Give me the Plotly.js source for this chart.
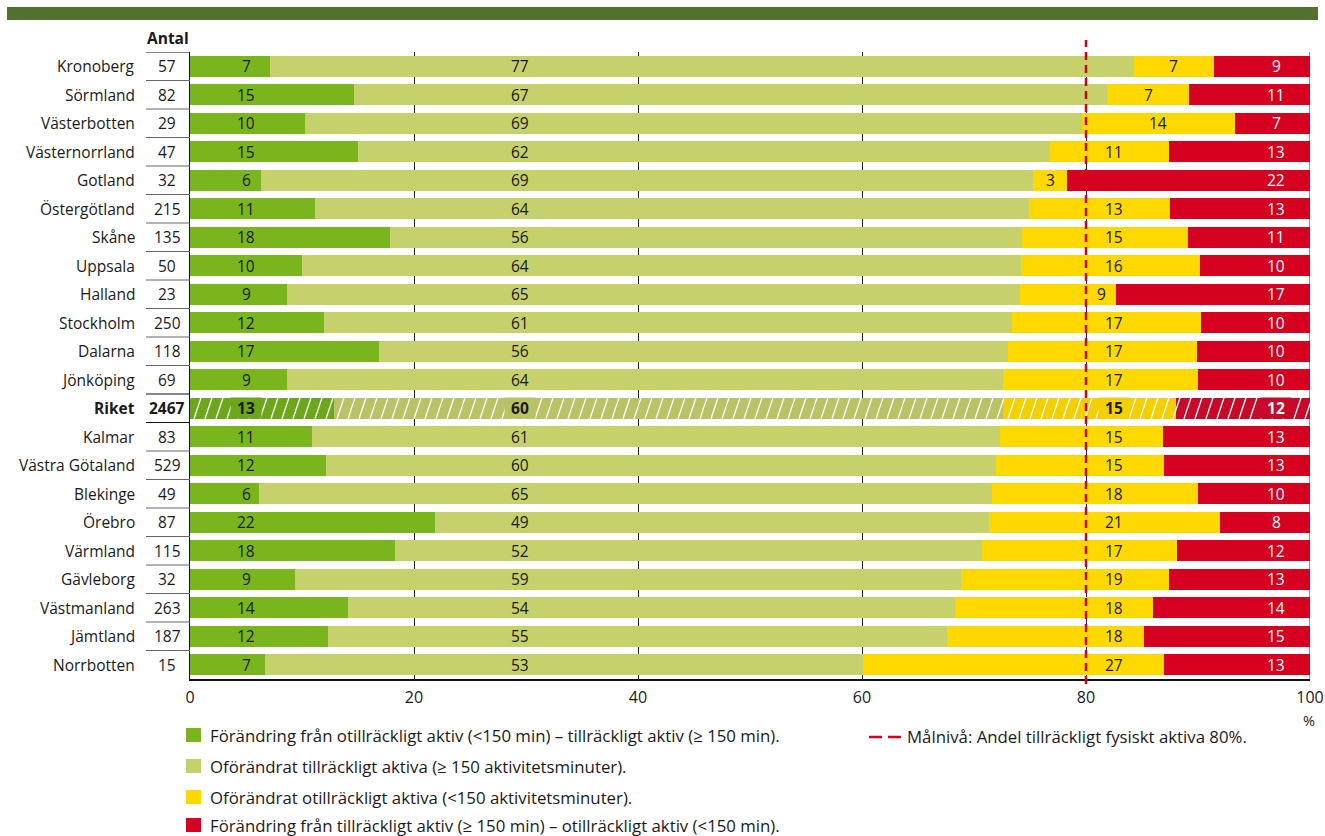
<!DOCTYPE html>
<html><head><meta charset="utf-8">
<script src="https://cdn.plot.ly/plotly-3.0.1.min.js"></script>
<style>html,body{margin:0;padding:0;background:#fff}#chart{width:1325px;height:836px}</style>
</head><body><div id="chart"></div>
<script>
// ---- data ----
const regions = ['Kronoberg','Sörmland','Västerbotten','Västernorrland','Gotland','Östergötland','Skåne','Uppsala','Halland','Stockholm','Dalarna','Jönköping','Riket','Kalmar','Västra Götaland','Blekinge','Örebro','Värmland','Gävleborg','Västmanland','Jämtland','Norrbotten'];
const antal = [57,82,29,47,32,215,135,50,23,250,118,69,2467,83,529,49,87,115,32,263,187,15];
// Förändring från otillräckligt aktiv – tillräckligt aktiv
const changedToActive = [7.1,14.6,10.3,15.0,6.3,11.2,17.9,10.0,8.7,12.0,16.9,8.7,12.9,10.9,12.1,6.2,21.9,18.3,9.4,14.1,12.3,6.7];
// Oförändrat tillräckligt aktiva
const stillActive = [77.2,67.3,69.3,61.8,69.0,63.7,56.4,64.2,65.4,61.4,56.1,63.9,59.7,61.4,59.9,65.4,49.4,52.4,59.4,54.2,55.3,53.4];
// Oförändrat otillräckligt aktiva
const stillInactive = [7.1,7.3,13.7,10.6,3.0,12.6,14.8,16.0,8.6,16.9,16.9,17.4,15.4,14.6,15.0,18.4,20.7,17.4,18.6,17.7,17.6,26.9];
// Förändring från tillräckligt aktiv – otillräckligt aktiv
const changedToInactive = [8.6,10.8,6.7,12.6,21.7,12.5,10.9,9.8,17.3,9.7,10.1,10.0,12.0,13.1,13.0,10.0,8.0,11.9,12.6,14.0,14.8,13.0];
const seriesNames = [
  'Förändring från otillräckligt aktiv (<150 min) – tillräckligt aktiv (≥ 150 min).',
  'Oförändrat tillräckligt aktiva (≥ 150 aktivitetsminuter).',
  'Oförändrat otillräckligt aktiva (<150 aktivitetsminuter).',
  'Förändring från tillräckligt aktiv (≥ 150 min) – otillräckligt aktiv (<150 min).'
];
const targetLevel = 80;
const targetName = 'Målnivå: Andel tillräckligt fysiskt aktiva 80%.';
const xTicks = [0,20,40,60,80,100];
const totalRow = 'Riket';
const countHeader = 'Antal';
const unitLabel = '%';

// ---- styling ----
const FONT = 'Open Sans, Noto Sans, sans-serif';
const TXT = '#1a1a1a';
const colors = ['#7ab51d','#c6d16c','#ffd800','#d60020'];
const totalColors = ['#6ca61b','#b9c264','#f5d000','#c80a2a'];
const W = 1325, H = 836, L = 190, R = 15, T = 52, B = 157;
const pw = W - L - R, ph = H - T - B;
const px = p => (p - L) / pw;          // pixel x -> paper
const py = p => (H - B - p) / ph;      // pixel y -> paper
const BARW = 0.74;

const series = [changedToActive, stillActive, stillInactive, changedToInactive];
const idx = regions.map((_, i) => i);
const isTotal = regions.map(r => r === totalRow);

const traces = series.map((vals, s) => ({
  type: 'bar', orientation: 'h', x: vals, y: idx, width: BARW,
  name: seriesNames[s], showlegend: false, hoverinfo: 'skip',
  marker: {color: isTotal.map(t => t ? totalColors[s] : colors[s]), line: {width: 0}}
}));

const ann = [];
const shapes = [];
// header band
shapes.push({type:'rect', xref:'paper', yref:'paper', x0:px(7), x1:px(1318), y0:py(20), y1:py(7), fillcolor:'#52722f', line:{width:0}, layer:'above'});
// Antal header
ann.push({xref:'paper', yref:'paper', x:px(145), y:py(38), xanchor:'left', yanchor:'middle', text:'<b>'+countHeader+'</b>', showarrow:false, font:{family:FONT, size:15.5, color:TXT}});

regions.forEach((r, i) => {
  const tot = isTotal[i];
  const b = t => tot ? '<b>' + t + '</b>' : String(t);
  ann.push({xref:'paper', yref:'y', x:px(137), y:i, xanchor:'right', yanchor:'middle', text:b(r), showarrow:false, font:{family:FONT, size:15.5, color:TXT}});
  ann.push({xref:'paper', yref:'y', x:px(167), y:i, xanchor:'center', yanchor:'middle', text:b(antal[i]), showarrow:false, font:{family:FONT, size:15.5, color:TXT}});
  // separators in count column
  const strong = i === 0 || tot || isTotal[i-1];
  shapes.push({type:'line', xref:'paper', yref:'y', x0:px(146), x1:px(190), y0:i-0.5, y1:i-0.5, line:{color: strong ? '#111' : '#666', width:1}});
  if (tot) shapes.push({type:'line', xref:'paper', yref:'y', x0:px(146), x1:px(190), y0:i+0.5, y1:i+0.5, line:{color:'#111', width:1}});

  // hatching on the total row
  if (tot) {
    const pxPct = 100 / pw;              // one pixel in % units
    const step = 11 * pxPct, slant = 7 * pxPct;
    let d = '';
    for (let x = -slant; x < 100; x += step) {
      d += 'M' + x.toFixed(3) + ',' + (i + BARW/2) + ' L' + (x + slant).toFixed(3) + ',' + (i - BARW/2) + ' ';
    }
    shapes.push({type:'path', xref:'x', yref:'y', path:d, line:{color:'#ffffff', width:1.3}, layer:'above'});
  }

  // segment labels
  const g = changedToActive[i], l = stillActive[i], yv = stillInactive[i], rd = changedToInactive[i];
  const yStart = g + l, yEnd = g + l + yv;
  let yx;
  if (yStart >= targetLevel - 1 || yEnd <= targetLevel) yx = (yStart + yEnd) / 2;
  else yx = Math.min(targetLevel + 2.5, (targetLevel + yEnd) / 2);
  const pos = [5, 29.5, yx, 97];
  const vals = [g, l, yv, rd];
  vals.forEach((v, s) => {
    const a = {xref:'x', yref:'y', x:pos[s], y:i, xanchor:'center', yanchor:'middle', showarrow:false,
      text: b(Math.round(v)), font:{family:FONT, size:15.5, color: s === 3 ? '#ffffff' : TXT}};
    if (tot) { a.bgcolor = totalColors[s]; a.borderpad = 0; a.width = 30; a.height = 20; }
    ann.push(a);
  });
});

// 100 line and target line
shapes.push({type:'line', xref:'x', yref:'paper', x0:100, x1:100, y0:0, y1:1, line:{color:'#222', width:1}, layer:'below'});
shapes.push({type:'line', xref:'x', yref:'paper', x0:targetLevel, x1:targetLevel, y0:py(684), y1:py(40), line:{color:'#d6001c', width:2.5, dash:'8px,5px'}, layer:'above'});

// unit label
ann.push({xref:'paper', yref:'paper', x:px(1309), y:py(720), xanchor:'center', yanchor:'middle', text:unitLabel, showarrow:false, font:{family:FONT, size:14.5, color:TXT}});

// legend
const legY = [735, 766, 797, 825];
seriesNames.forEach((n, s) => {
  shapes.push({type:'rect', xref:'paper', yref:'paper', x0:px(186), x1:px(201), y0:py(legY[s]+7), y1:py(legY[s]-7), fillcolor:colors[s], line:{width:0}});
  ann.push({xref:'paper', yref:'paper', x:px(208), y:py(legY[s]), xanchor:'left', yanchor:'middle', text:n, showarrow:false, font:{family:FONT, size:16.8, color:TXT}});
});
shapes.push({type:'line', xref:'paper', yref:'paper', x0:px(869), x1:px(882), y0:py(737), y1:py(737), line:{color:'#d6001c', width:2.5}});
shapes.push({type:'line', xref:'paper', yref:'paper', x0:px(888), x1:px(901), y0:py(737), y1:py(737), line:{color:'#d6001c', width:2.5}});
ann.push({xref:'paper', yref:'paper', x:px(905), y:py(736), xanchor:'left', yanchor:'middle', text:targetName, showarrow:false, font:{family:FONT, size:16.8, color:TXT}});

const layout = {
  width: W, height: H,
  margin: {l:L, r:R, t:T, b:B, pad:0},
  paper_bgcolor:'#ffffff', plot_bgcolor:'#ffffff',
  barmode: 'stack',
  showlegend: false,
  font: {family: FONT, size: 15.5, color: TXT},
  xaxis: {range:[0,100], tickvals:xTicks, ticktext:xTicks.map(String), showgrid:true, gridcolor:'#222', gridwidth:1,
          zeroline:false, showline:true, linecolor:'#111', linewidth:1.5, ticks:'', ticklabelstandoff:3,
          tickfont:{family:FONT, size:16, color:TXT}, fixedrange:true},
  yaxis: {range:[regions.length - 0.5, -0.5], showticklabels:false, showgrid:false, zeroline:false, showline:true, linecolor:'#111', linewidth:1, ticks:'', fixedrange:true},
  shapes: shapes,
  annotations: ann
};
Plotly.newPlot('chart', traces, layout, {displayModeBar:false, staticPlot:true});
</script>
</body></html>
